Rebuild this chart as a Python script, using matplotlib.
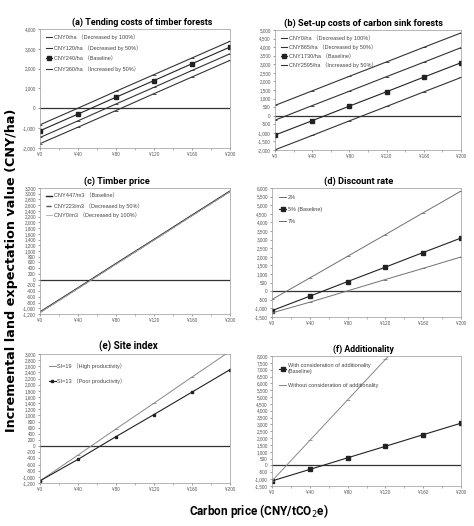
import matplotlib
matplotlib.use("Agg")
import matplotlib.pyplot as plt
from matplotlib.ticker import FuncFormatter, MultipleLocator

plt.rcParams['font.family'] = ['Liberation Sans', 'DejaVu Sans', 'Noto Sans CJK SC']
NARROW = ['Liberation Sans Narrow', 'Roboto', 'DejaVu Sans']

carbon_price = [0, 40, 80, 120, 160, 200]
xtick_labels = ['¥0', '¥40', '¥80', '¥120', '¥160', '¥200']

baseline = [-1130, -290, 560, 1400, 2250, 3090]

# (a) Tending costs
a_labels = ['CNY0/ha （Decreased by 100%）', 'CNY120/ha （Decreased by 50%）',
            'CNY240/ha （Baseline）', 'CNY360/ha （Increased by 50%）']
a_values = [[-830, 10, 860, 1700, 2540, 3380],
            baseline,
            [-1470, -630, 220, 1060, 1910, 2750],
            [-1780, -950, -110, 740, 1580, 2420]]

# (b) Set-up costs
b_labels = ['CNY0/ha （Decreased by 100%）', 'CNY865/ha （Decreased by 50%）',
            'CNY1730/ha （Baseline）', 'CNY2595/ha （Increased by 50%）']
b_values = [[600, 1450, 2300, 3140, 3990, 4830],
            [-260, 590, 1430, 2280, 3120, 3970],
            baseline,
            [-1990, -1150, -300, 540, 1390, 2230]]

# (c) Timber price
c_labels = ['CNY447/m3 （Baseline）', 'CNY223/m3 （Decreased by 50%）', 'CNY0/m3 （Decreased by 100%）']
c_values = [baseline,
            [-1140, -300, 550, 1390, 2240, 3080],
            [-1150, -310, 540, 1380, 2230, 3070]]

# (d) Discount rate
d_labels = ['2%', '5% (Baseline)', '7%']
d_values = [[-480, 770, 2030, 3290, 4560, 5820],
            baseline,
            [-1260, -640, 20, 680, 1330, 1990]]

# (e) Site index
e_labels = ['SI=19 （High productivity）', 'SI=13 （Poor productivity）']
e_values = [baseline,
            [-1130, -430, 310, 1030, 1760, 2490]]

# (f) Additionality
f_labels = ['With consideration of additionality\n(Baseline)', 'Without consideration of additionality']
f_values = [baseline,
            [-1130, 1830, 4790, 7750, 10710, 13670]]

fig = plt.figure(figsize=(4.74, 5.26), dpi=100)
W, H = 474, 526
renderer = fig.canvas.get_renderer()

def make_ax(x0, y0, x1, y1):
    return fig.add_axes([x0 / W, 1 - y1 / H, (x1 - x0) / W, (y1 - y0) / H])

def fit(t, target, vertical=False, max_size=None):
    for _ in range(3):
        bb = t.get_window_extent(renderer)
        size = bb.height if vertical else bb.width
        t.set_fontsize(t.get_fontsize() * target / size)
    if max_size is not None and t.get_fontsize() > max_size:
        t.set_fontsize(max_size)

GRAY = '#707070'
fmt = FuncFormatter(lambda v, p: f'{int(v):,}')

def style(ax, title, ymin, ymax, ystep, title_w, title_cx):
    ax.set_xlim(0, 200)
    ax.set_ylim(ymin, ymax)
    ax.set_xticks(carbon_price)
    ax.set_xticklabels(xtick_labels)
    ax.xaxis.set_minor_locator(MultipleLocator(20))
    ax.yaxis.set_major_locator(MultipleLocator(ystep))
    ax.yaxis.set_major_formatter(fmt)
    ax.tick_params(labelsize=3.3, length=1.5, width=0.4, pad=1.5, colors='#555555')
    ax.tick_params(which='minor', length=1.2, width=0.4, colors='#777777')
    for s in ax.spines.values():
        s.set_color('#999999')
        s.set_linewidth(0.5)
    ax.axhline(0, color='#333333', lw=0.9, zorder=1)
    bb = ax.get_position()
    t = fig.text(title_cx / W, bb.y1 + 2.0 / H, title, ha='center', va='bottom',
                 fontsize=8, fontweight='bold', family=NARROW)
    fit(t, title_w * 1.08, max_size=7.4)

def legend(ax, handles=None, labels=None, labelspacing=0.9, pad=0.6):
    args = [] if handles is None else [handles, labels]
    leg = ax.legend(*args, loc='upper left', frameon=False, fontsize=4, handlelength=1.2,
                    handletextpad=0.3, labelspacing=labelspacing, borderaxespad=pad,
                    labelcolor='#444444')
    return leg

mk = dict(marker='_', ms=2.5, mew=0.6)
mb = dict(marker='s', ms=2.5)

# (a)
ax = make_ax(40, 29, 230, 148)
la = []
for i, (lab, v) in enumerate(zip(a_labels, a_values)):
    if i == 1:
        la.append(ax.plot(carbon_price, v, color='#222222', lw=0.8, **mb)[0])
    else:
        la.append(ax.plot(carbon_price, v, color='#333333', lw=0.8, **mk)[0])
style(ax, '(a) Tending costs of timber forests', -2000, 4000, 1000, 130, 142)
legend(ax, [la[0], la[2], la[1], la[3]], a_labels)

# (b)
ax = make_ax(275, 30, 461, 150)
for i, (lab, v) in enumerate(zip(b_labels, b_values)):
    if i == 2:
        ax.plot(carbon_price, v, color='#222222', lw=0.8, label=lab, **mb)
    else:
        ax.plot(carbon_price, v, color='#333333', lw=0.8, label=lab, **mk)
style(ax, '(b) Set-up costs of carbon sink forests', -2000, 5000, 500, 147, 363)
legend(ax, labelspacing=0.6)

# (c)
ax = make_ax(40, 188, 230, 314)
ax.plot(carbon_price, c_values[0], color='#222222', lw=1.0, label=c_labels[0])
ax.plot(carbon_price, c_values[1], color='#555555', lw=1.0, ls='--', label=c_labels[1])
ax.plot(carbon_price, c_values[2], color='#aaaaaa', lw=0.6, label=c_labels[2])
style(ax, '(c) Timber price', -1200, 3200, 200, 60, 117)
legend(ax, labelspacing=0.7)

# (d)
ax = make_ax(272, 188, 461, 317)
ax.plot(carbon_price, d_values[0], color=GRAY, lw=0.7, label=d_labels[0], **mk)
ax.plot(carbon_price, d_values[1], color='#222222', lw=0.8, label=d_labels[1], **mb)
ax.plot(carbon_price, d_values[2], color=GRAY, lw=0.7, label=d_labels[2], **mk)
style(ax, '(d) Discount rate', -1500, 6000, 500, 64, 359)
legend(ax, labelspacing=1.2, pad=0.9)

# (e)
ax = make_ax(40, 354, 230, 483)
ax.plot(carbon_price, e_values[0], color='#888888', lw=0.7, label=e_labels[0], **mk)
ax.plot(carbon_price, e_values[1], color='#222222', lw=0.8, marker='s', ms=2.0, label=e_labels[1])
style(ax, '(e) Site index', -1200, 3000, 200, 55, 128)
legend(ax, labelspacing=1.7, pad=1.2)

# (f)
ax = make_ax(272, 356, 461, 486)
ax.plot(carbon_price, f_values[0], color='#222222', lw=0.8, label=f_labels[0], **mb)
ax.plot(carbon_price, f_values[1], color='#888888', lw=0.7, label=f_labels[1], **mk)
style(ax, '(f) Additionality', -1500, 8000, 500, 57, 363)
legend(ax, labelspacing=1.6, pad=0.9)

yl = fig.text(12 / W, 1 - 270 / H, 'Incremental land expectation value (CNY/ha)', rotation=90,
              ha='center', va='center', fontsize=10, fontweight='bold', family=['DejaVu Sans'])
fit(yl, 320, vertical=True)
xl = fig.text(259 / W, 1 - 511 / H, 'Carbon price (CNY/tCO$_2$e)', ha='center', va='center',
              fontsize=10, fontweight='bold', family=NARROW)
fit(xl, 140, max_size=10)

fig.savefig('out.png', dpi=100)
